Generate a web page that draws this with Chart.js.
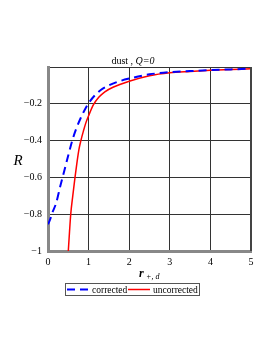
<!DOCTYPE html>
<html>
<head>
<meta charset="utf-8">
<script src="https://cdn.jsdelivr.net/npm/chart.js@4/dist/chart.umd.min.js"></script>
<style>
  html, body { margin: 0; padding: 0; background: #fff; }
  canvas { display: block; }
</style>
</head>
<body>
<canvas id="rChart" width="273" height="353"></canvas>
<script>
// values
const correctedR = [0, 0.05, 0.1, 0.2, 0.3, 0.4, 0.5, 0.6, 0.7, 0.8, 0.9, 1.0, 1.15, 1.3, 1.5, 1.75, 2, 2.5, 3, 3.5, 4, 4.5, 5];
const correctedVal = [-0.855, -0.83, -0.795, -0.74, -0.65, -0.565, -0.48, -0.398, -0.333, -0.28, -0.235, -0.197, -0.155, -0.125, -0.1, -0.078, -0.063, -0.04, -0.028, -0.022, -0.017, -0.013, -0.009];
const uncorrectedR = [0.5, 0.53, 0.56, 0.61, 0.665, 0.71, 0.76, 0.81, 0.87, 0.93, 1.0, 1.12, 1.25, 1.4, 1.6, 2, 2.5, 3, 3.5, 4, 4.5, 5];
const uncorrectedVal = [-1, -0.895, -0.8, -0.7, -0.6, -0.525, -0.45, -0.4, -0.35, -0.305, -0.265, -0.205, -0.165, -0.135, -0.11, -0.077, -0.047, -0.031, -0.024, -0.018, -0.014, -0.01];
const xTicks = [0, 1, 2, 3, 4, 5];
const yTicks = [-1, -0.8, -0.6, -0.4, -0.2, 0];

const serif = "'Liberation Serif', 'DejaVu Serif', serif";

function toPoints(xs, ys) {
    var pts = [];
    for (let i = 0; i < xs.length; i++) {
        pts.push({ x: xs[i], y: ys[i] });
    }
    return pts;
}

// title, axis names, legend box
const decorations = {
    id: 'decorations',
    afterDraw(chart) {
        const ctx = chart.ctx;
        const area = chart.chartArea;
        ctx.save();
        ctx.fillStyle = '#000';
        ctx.textBaseline = 'alphabetic';

        // title
        ctx.font = '10px ' + serif;
        ctx.textAlign = 'left';
        let t1 = 'dust , ';
        let w1 = ctx.measureText(t1).width;
        ctx.font = 'italic 10px ' + serif;
        let w2 = ctx.measureText('Q=0').width;
        let tx = 133 - (w1 + w2) / 2;
        ctx.font = '10px ' + serif;
        ctx.fillText(t1, tx, 64);
        ctx.font = 'italic 10px ' + serif;
        ctx.fillText('Q=0', tx + w1, 64);

        // y name
        ctx.font = 'italic 15px ' + serif;
        ctx.textAlign = 'center';
        ctx.fillText('R', 18, 165);

        // x name
        ctx.font = 'italic bold 12px ' + serif;
        ctx.textAlign = 'left';
        ctx.fillText('r', 139, 277);
        ctx.font = 'italic 8px ' + serif;
        ctx.fillText('+, d', 146, 279);

        // frame right
        ctx.strokeStyle = '#444';
        ctx.lineWidth = 2;
        ctx.beginPath();
        ctx.moveTo(area.right, area.top);
        ctx.lineTo(area.right, area.bottom);
        ctx.stroke();

        // legend
        ctx.strokeStyle = '#555';
        ctx.lineWidth = 1;
        ctx.strokeRect(65.5, 283.5, 134, 12);
        ctx.strokeStyle = '#0000ff';
        ctx.lineWidth = 2;
        ctx.setLineDash([8, 5]);
        ctx.beginPath();
        ctx.moveTo(67, 289.5);
        ctx.lineTo(89, 289.5);
        ctx.stroke();
        ctx.setLineDash([]);
        ctx.strokeStyle = '#ff0000';
        ctx.lineWidth = 1.5;
        ctx.beginPath();
        ctx.moveTo(128, 289.5);
        ctx.lineTo(150, 289.5);
        ctx.stroke();
        ctx.font = '9.5px ' + serif;
        ctx.fillStyle = '#000';
        ctx.fillText('corrected', 92, 293);
        ctx.fillText('uncorrected', 153, 293);
        ctx.restore();
    }
};

const ctx = document.getElementById('rChart').getContext('2d');
const rChart = new Chart(ctx, {
    type: 'line',
    data: {
        datasets: [
            {
                label: 'corrected',
                data: toPoints(correctedR, correctedVal),
                borderColor: '#0000ff',
                borderWidth: 2,
                borderDash: [8, 5],
                pointRadius: 0,
                cubicInterpolationMode: 'monotone',
                fill: false,
            },
            {
                label: 'uncorrected',
                data: toPoints(uncorrectedR, uncorrectedVal),
                borderColor: '#ff0000',
                borderWidth: 1.5,
                pointRadius: 0,
                cubicInterpolationMode: 'monotone',
                fill: false,
            },
        ]
    },
    options: {
        responsive: false,
        animation: false,
        layout: { padding: { top: 67, right: 22, bottom: 0, left: 0 } },
        scales: {
            x: {
                type: 'linear',
                min: 0,
                max: 5,
                afterFit: (scale) => { scale.height = 102; },
                afterBuildTicks: (scale) => { scale.ticks = xTicks.map(v => ({ value: v })); },
                grid: { color: '#333', lineWidth: 1, drawTicks: false },
                border: { color: '#888', width: 3 },
                ticks: {
                    padding: 5,
                    color: '#000',
                    font: { family: serif, size: 10 },
                    maxRotation: 0,
                },
            },
            y: {
                type: 'linear',
                min: -1,
                max: 0,
                afterFit: (scale) => { scale.width = 48; },
                afterBuildTicks: (scale) => { scale.ticks = yTicks.map(v => ({ value: v })); },
                grid: { color: '#333', lineWidth: 1, drawTicks: false },
                border: { color: '#888', width: 3 },
                ticks: {
                    padding: 6,
                    color: '#000',
                    font: { family: serif, size: 10 },
                    callback: (v) => {
                        if (v === 0) return '';
                        return (Math.round(v * 10) / 10).toString().replace('-', '\u2212');
                    },
                },
            },
        },
        plugins: {
            legend: { display: false },
            title: { display: false },
            tooltip: { enabled: false },
        },
    },
    plugins: [decorations],
});
</script>
</body>
</html>
